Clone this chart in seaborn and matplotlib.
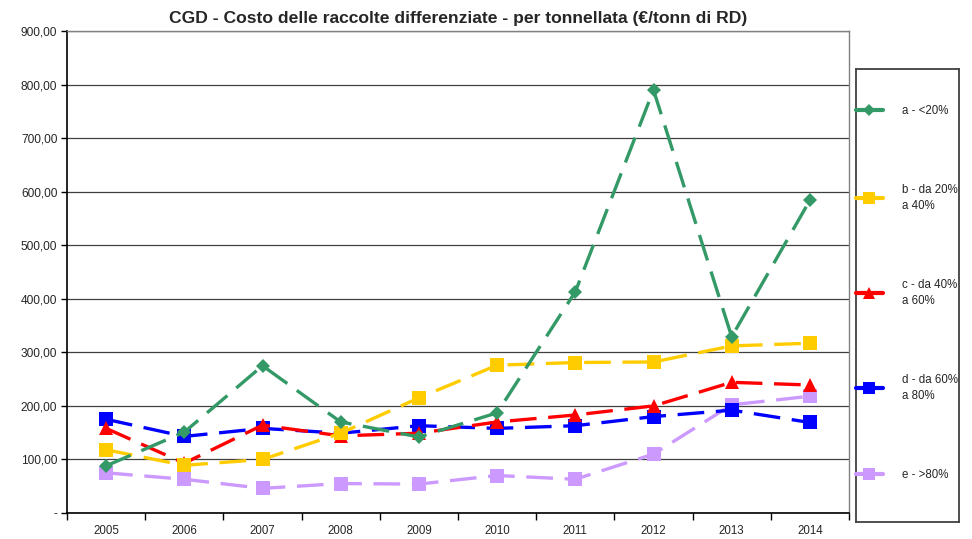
import matplotlib
matplotlib.use("Agg")
import matplotlib.pyplot as plt
import seaborn as sns
import pandas as pd
from matplotlib.lines import Line2D
from matplotlib.ticker import FixedLocator, FuncFormatter

# dati
anni = ["2005", "2006", "2007", "2008", "2009", "2010", "2011", "2012", "2013", "2014"]
a_meno20 = [88, 151, 275, 170, 142, 187, 413, 790, 329, 584]
b_20_40 = [118, 89, 100, 149, 215, 276, 281, 282, 312, 317]
c_40_60 = [158, 93, 164, 144, 149, 170, 183, 200, 244, 239]
d_60_80 = [175, 143, 158, 149, 163, 158, 163, 180, 192, 169]
e_oltre80 = [75, 63, 46, 55, 54, 70, 63, 110, 202, 218]

etichette = ["a - <20%", "b - da 20%\na 40%", "c - da 40%\na 60%", "d - da 60%\na 80%", "e - >80%"]
colori = ["#339966", "#FFCC00", "#FF0000", "#0000FF", "#CC99FF"]
marcatori = ["D", "s", "^", "s", "s"]
dim_marc = [7.5, 10, 10, 10, 10]
serie = [a_meno20, b_20_40, c_40_60, d_60_80, e_oltre80]

sns.set_style("white")
plt.rcParams["font.family"] = ["Liberation Sans", "DejaVu Sans"]

fig = plt.figure(figsize=(9.72, 5.39), dpi=100)
ax = fig.add_axes([67 / 972, 1 - 513 / 539, (849 - 67) / 972, (513 - 31) / 539])

# disegno le serie dal basso verso l'alto
ordine = [4, 3, 2, 1, 0]
for i in ordine:
    df = pd.DataFrame({"anno": anni, "valore": serie[i]})
    sns.lineplot(data=df, x="anno", y="valore", ax=ax, color=colori[i],
                 marker=marcatori[i], markersize=dim_marc[i], markeredgewidth=0,
                 linewidth=2.4, linestyle=(0, (8, 3.5)), zorder=3 + (4 - i))

ax.set_xlim(-0.5, 9.5)
ax.set_ylim(0, 900)
ax.set_yticks(range(0, 901, 100))
ax.yaxis.set_major_formatter(FuncFormatter(lambda v, p: "-" if v == 0 else f"{v:.2f}".replace(".", ",")))
ax.grid(axis="y", color="#404040", linewidth=0.9)
ax.set_axisbelow(True)
ax.set_xlabel("")
ax.set_ylabel("")

ax.set_xticks(range(10))
ax.set_xticklabels(anni)
ax.xaxis.set_minor_locator(FixedLocator([x - 0.5 for x in range(11)]))
ax.tick_params(axis="x", which="major", length=0, pad=9, labelsize=8.3)
ax.tick_params(axis="x", which="minor", length=5, width=1, color="black", direction="out", bottom=True)
ax.tick_params(axis="y", which="major", length=4, width=1, color="black", direction="out", left=True, labelsize=8.6, pad=3)

for lato in ["top", "right"]:
    ax.spines[lato].set_color("#808080")
    ax.spines[lato].set_linewidth(1)
for lato in ["left", "bottom"]:
    ax.spines[lato].set_color("black")
    ax.spines[lato].set_linewidth(1.2)

ax.set_title("CGD - Costo delle raccolte differenziate - per tonnellata (€/tonn di RD)",
             fontsize=12.6, fontweight="bold", pad=6)

# riquadro della legenda
ax_leg = fig.add_axes([856 / 972, 1 - 522 / 539, 103 / 972, 453 / 539])
ax_leg.set_xticks([])
ax_leg.set_yticks([])
for lato in ax_leg.spines.values():
    lato.set_color("#404040")
    lato.set_linewidth(1.3)

maniglie = [Line2D([0], [0], color=colori[i], marker=marcatori[i], markersize=dim_marc[i] * 0.8,
                   markeredgewidth=0, linewidth=3) for i in range(5)]
leg = ax_leg.legend(maniglie, etichette, loc="center left", bbox_to_anchor=(0.0, 0.506),
                    frameon=False, fontsize=8.3, handlelength=2.3, handletextpad=1.7,
                    labelspacing=5.8, borderpad=0, borderaxespad=0)
for t in leg.get_texts():
    t.set_linespacing(1.45)

fig.savefig("out.png", dpi=100)
